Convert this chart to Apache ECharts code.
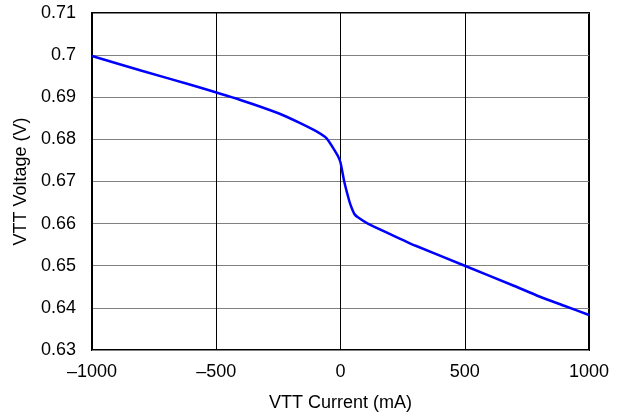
<!DOCTYPE html>
<html lang="en">
<head>
    <meta charset="UTF-8">
    <title>VTT</title>
    <script src="https://cdn.jsdelivr.net/npm/echarts@6/dist/echarts.min.js"></script>
</head>
<body style="margin:0;background:#fff">
<div id="main" style="width:621px;height:417px"></div>
<script>
    // current (mA) and voltage (V)
    const currentMA = [-1000, -800, -600, -400, -250, -160, -100, -63, -50, -30, -10, 0, 15, 30, 40, 50, 57, 70, 110, 200, 300, 500, 700, 800, 900, 1000];
    const voltageV = [0.6998, 0.6963, 0.6929, 0.6893, 0.6862, 0.6838, 0.6820, 0.6806, 0.6798, 0.6780, 0.6760, 0.6745, 0.6700, 0.6665, 0.6645, 0.6630, 0.6622, 0.6615, 0.6600, 0.6575, 0.6548, 0.6500, 0.6452, 0.6427, 0.6405, 0.6383];

    const chart = echarts.init(document.getElementById('main'));
    const font = 'Liberation Sans, Arial, sans-serif';

    chart.setOption({
        animation: false,
        grid: {
            left: 92, right: 32, top: 13, bottom: 67,
            show: true, borderColor: '#000', borderWidth: 2, backgroundColor: '#fff'
        },
        xAxis: {
            type: 'value', min: -1000, max: 1000, interval: 500,
            name: 'VTT Current (mA)', nameLocation: 'middle', nameGap: 44,
            nameTextStyle: {fontFamily: font, fontSize: 18, color: '#000'},
            axisLine: {show: false},
            axisTick: {show: false},
            axisLabel: {
                fontFamily: font, fontSize: 18, color: '#000', margin: 13,
                formatter: v => String(v).replace('-', '\u2013')
            },
            splitLine: {lineStyle: {color: '#000', width: 1}}
        },
        yAxis: {
            type: 'value', min: 0.63, max: 0.71, interval: 0.01,
            name: 'VTT Voltage (V)', nameLocation: 'middle', nameGap: 58,
            nameTextStyle: {fontFamily: font, fontSize: 18, color: '#000'},
            axisLine: {show: false},
            axisTick: {show: false},
            axisLabel: {
                fontFamily: font, fontSize: 18, color: '#000', margin: 16,
                formatter: v => String(Math.round(v * 100) / 100)
            },
            splitLine: {lineStyle: {color: '#808080', width: 1}}
        },
        series: [{
            type: 'line',
            data: currentMA.map((x, i) => [x, voltageV[i]]),
            smooth: 0.2,
            showSymbol: false,
            lineStyle: {color: '#0000ff', width: 2.5}
        }]
    });
</script>
</body>
</html>
